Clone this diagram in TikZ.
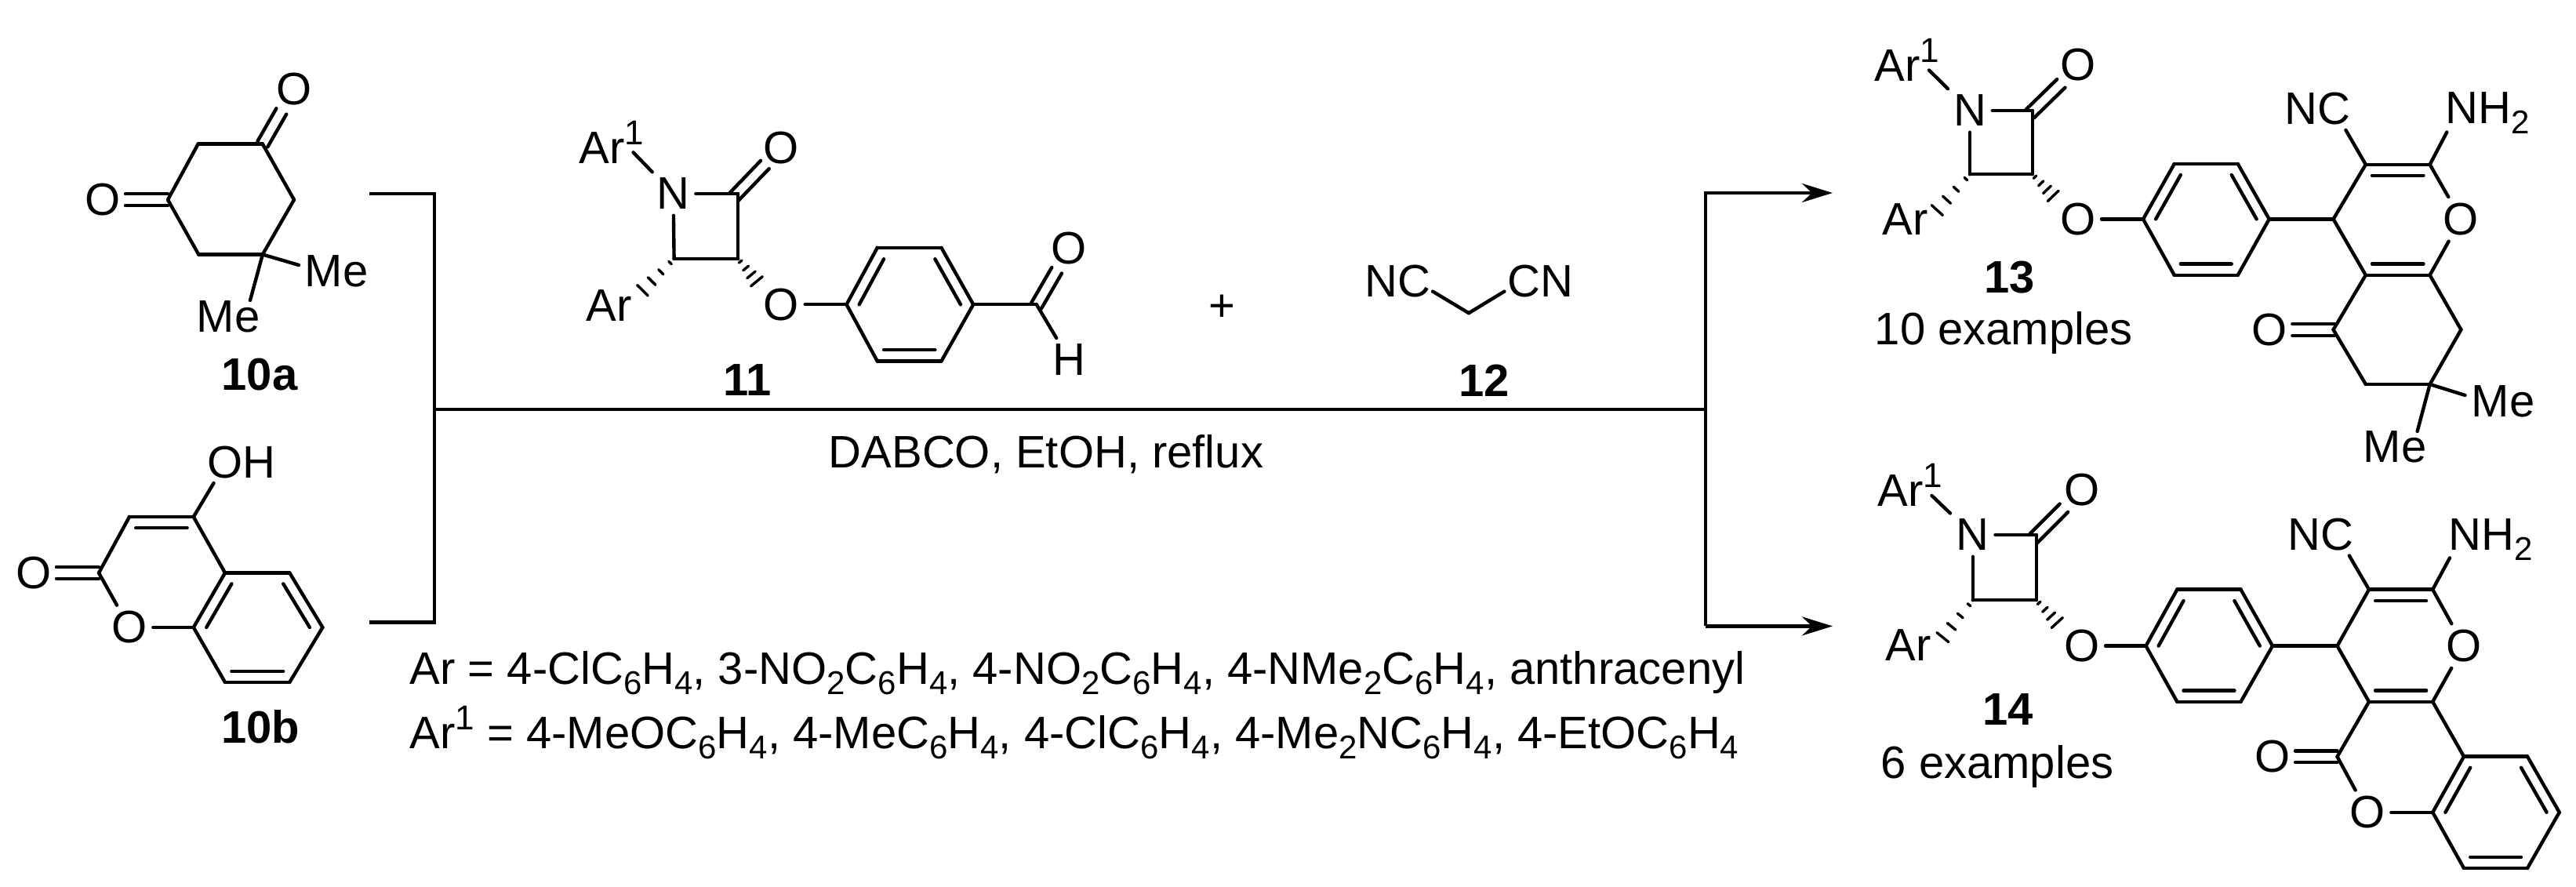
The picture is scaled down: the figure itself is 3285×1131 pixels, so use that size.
\documentclass[tikz,border=0pt]{standalone}
\usepackage{fontspec}
\setmainfont{Liberation Sans}
\usetikzlibrary{calc,arrows.meta}
\newcommand{\chsb}[1]{\raisebox{-3.25pt}{\fontsize{10.5}{10.5}\selectfont #1}}
\newcommand{\chsp}[1]{\raisebox{6pt}{\fontsize{11}{11}\selectfont #1}}
\newcommand{\bonds}[1]{\foreach \p/\q in {#1} \draw[bondline] (\p) -- (\q);}
\newcommand{\inb}[3]{\draw[bondline] ($(#3)!.8!(#1)$) -- ($(#3)!.8!(#2)$);}
\newcommand{\dbl}[2]{\draw[bondline] ($(#1)!1.85pt!90:(#2)$) -- ($(#2)!1.85pt!-90:(#1)$);
  \draw[bondline] ($(#1)!1.85pt!-90:(#2)$) -- ($(#2)!1.85pt!90:(#1)$);}
\newcommand{\hsh}[2]{\foreach \t/\w in {.12/.6pt,.40/1.1pt,.68/1.7pt,.96/2.4pt}
  \draw[bondline,line width=.85pt] ($($(#1)!\t!(#2)$)!\w!90:(#2)$) -- ($($(#1)!\t!(#2)$)!\w!-90:(#2)$);}
\tikzset{
  bondline/.style={line width=1.1pt,line cap=round,line join=round,black},
  rxnline/.style={line width=1.1pt,line cap=butt,line join=miter,black},
  arrowline/.style={rxnline,-{Stealth[length=9.75pt,width=6pt]}},
  atom/.style={inner sep=1.75pt,font=\fontsize{14.5}{14.5}\selectfont},
  txt/.style={inner sep=0pt,anchor=base west,font=\fontsize{14.5}{14.5}\selectfont},
  lbl/.style={inner sep=0pt,anchor=base,font=\fontsize{14.5}{14.5}\selectfont\bfseries}
}
\begin{document}
\begin{tikzpicture}[x=.25pt,y=-.25pt]
\useasboundingbox (0,0) rectangle (3285,1131);
\fill[white] (0,0) rectangle (3285,1131);
% ---------- 10a
\coordinate (A1) at (252.6,183.7); \coordinate (A2) at (334.9,183.7);
\coordinate (A3) at (375,254.7); \coordinate (A4) at (334.9,324.5);
\coordinate (A5) at (253.3,324.5); \coordinate (A6) at (214,254.7);
\coordinate (AE1) at (358.8,142); \coordinate (AE2) at (160,254.7);
\coordinate (AM1) at (381,338); \coordinate (AM2) at (319,383);
\node[atom] (AO1) at (375,114) {O};
\node[atom] (AO2) at (131,254.7) {O};
\node[txt] (AMe1) at (388,366) {Me};
\node[txt] (AMe2) at (250,424) {Me};
\node[lbl] (Al) at (331,497.8) {10a};
\bonds{A1/A2,A2/A3,A3/A4,A4/A5,A5/A6,A6/A1,A4/AM1,A4/AM2}
\dbl{A2}{AE1} \dbl{A6}{AE2}
% ---------- 10b
\coordinate (B3) at (165,659); \coordinate (B4) at (246.8,659);
\coordinate (B4a) at (287,730.5); \coordinate (B8a) at (246.8,800);
\coordinate (B2) at (126,730.5);
\coordinate (B5) at (369.3,730.5); \coordinate (B6) at (411.4,800);
\coordinate (B7) at (369.3,870); \coordinate (B8) at (287,870);
\coordinate (Bc1) at (206,730); \coordinate (Bc2) at (329,800);
\coordinate (BE) at (72,730.5); \coordinate (BH) at (272.5,616);
\node[atom] (BO1) at (43,730.5) {O};
\node[atom] (BO2) at (165,800) {O};
\node[txt] (BOH) at (264,610) {OH};
\node[lbl] (Bl) at (332,948) {10b};
\bonds{B2/B3,B3/B4,B4/B4a,B4a/B8a,B4a/B5,B5/B6,B6/B7,B7/B8,B8/B8a,B4/BH,B2/BO2,BO2/B8a}
\inb{B3}{B4}{Bc1} \inb{B4a}{B8a}{Bc2} \inb{B5}{B6}{Bc2} \inb{B7}{B8}{Bc2}
\dbl{B2}{BE}
% ---------- 11
\node[atom] (CN) at (858.6,247) {N};
\coordinate (C2) at (941.2,247); \coordinate (C3) at (941.2,330); \coordinate (C4) at (859.6,330);
\coordinate (CS) at (936,251); \coordinate (CE) at (975.4,210);
\coordinate (CA1) at (807.6,194.4); \coordinate (CHA) at (817.8,372); 
\node[atom] (CO1) at (996.3,188.3) {O};
\node[atom] (CO2) at (996.3,388.3) {O};
\node[txt] (CAr1) at (738,208.6) {Ar\chsp{1}};
\node[txt] (CAr) at (747,409.7) {Ar};
\coordinate (CP1) at (1079.5,388.3); \coordinate (CP2) at (1118.8,315.8);
\coordinate (CP3) at (1200.4,315.8); \coordinate (CP4) at (1241.2,388.3);
\coordinate (CP5) at (1200.4,460.5); \coordinate (CP6) at (1118.8,460.5);
\coordinate (Cc) at (1160.3,388.3);
\coordinate (CC) at (1321.8,388.3); \coordinate (CS2) at (1321.6,389.7); \coordinate (CE2) at (1347.6,344.8);
\node[atom] (CO3) at (1362.7,317) {O};
\node[atom] (CH) at (1363.7,458.8) {H};
\node[lbl] (Cl) at (953,504.6) {11};
\bonds{CN/C2,C2/C3,C3/C4,C4/CN,CN/CA1,CO2/CP1,CP1/CP2,CP2/CP3,CP3/CP4,CP4/CP5,CP5/CP6,CP6/CP1,CP4/CC,CC/CH}
\hsh{C4}{CHA} \hsh{C3}{CO2.north west}
\dbl{CS}{CE} \dbl{CS2}{CE2}
\inb{CP1}{CP2}{Cc} \inb{CP3}{CP4}{Cc} \inb{CP5}{CP6}{Cc}
% ---------- plus, 12
\node[inner sep=0pt,font=\fontsize{14.5}{14.5}\selectfont] (plus) at (1558.5,392.3) {+};
\coordinate (G1) at (1827,371.6); \coordinate (G2) at (1873,399.2); \coordinate (G3) at (1918.4,371.6);
\node[txt] (GNC) at (1740,378.5) {NC};
\node[txt] (GCN) at (1922,378.5) {CN};
\node[lbl] (Gl) at (1892.5,505.6) {12};
\bonds{G1/G2,G2/G3}
% ---------- reaction lines
\coordinate (R1) at (470.7,246.8); \coordinate (R2) at (554,246.8);
\coordinate (R3) at (554,793.6); \coordinate (R4) at (470.7,793.6);
\coordinate (R5) at (554,522); \coordinate (R6) at (2175,522);
\coordinate (R7) at (2175,246); \coordinate (R8) at (2337,246);
\coordinate (R9) at (2175,798.4); \coordinate (R10) at (2337,798.4);
\draw[rxnline] (R1) -- (R2) -- (R3) -- (R4);
\draw[rxnline] (R5) -- (R6);
\draw[arrowline] (R9) -- (R7) -- (R8);
\draw[arrowline] (R9) -- (R10);
\node[txt] (cond) at (1056,596.7) {DABCO, EtOH, reflux};
\node[txt] (arline) at (522,873) {Ar = 4-ClC\chsb{6}H\chsb{4}, 3-NO\chsb{2}C\chsb{6}H\chsb{4}, 4-NO\chsb{2}C\chsb{6}H\chsb{4}, 4-NMe\chsb{2}C\chsb{6}H\chsb{4}, anthracenyl};
\node[txt] (arline2) at (522,955) {Ar\chsp{1} = 4-MeOC\chsb{6}H\chsb{4}, 4-MeC\chsb{6}H\chsb{4}, 4-ClC\chsb{6}H\chsb{4}, 4-Me\chsb{2}NC\chsb{6}H\chsb{4}, 4-EtOC\chsb{6}H\chsb{4}};
% ---------- 13
\node[atom] (DN) at (2512,141) {N};
\coordinate (D2) at (2591.7,141); \coordinate (D3) at (2591.7,222.3); \coordinate (D4) at (2512,222.3);
\coordinate (DS) at (2588.7,145); \coordinate (DE) at (2628.3,106.4);
\coordinate (DA1) at (2460,89.5); \coordinate (DHA) at (2468.6,270);
\node[atom] (DO1) at (2649.6,83) {O};
\node[atom] (DO2) at (2649.6,279.4) {O};
\node[txt] (DAr1) at (2390,103.5) {Ar\chsp{1}};
\node[txt] (DAr) at (2400,300) {Ar};
\coordinate (DP1) at (2733,279.4); \coordinate (DP2) at (2772.7,209); \coordinate (DP3) at (2853.8,209);
\coordinate (DP4) at (2893.7,279.4); \coordinate (DP5) at (2853.8,350.8); \coordinate (DP6) at (2772.7,350.8);
\coordinate (Dc) at (2813.3,279.4);
\coordinate (DQ4) at (2975.5,279.4); \coordinate (DQ3) at (3016.8,209.8); \coordinate (DQ2) at (3098.6,209.8);
\coordinate (DQ8a) at (3098.6,350.8); \coordinate (DQ4a) at (3016.8,350.8);
\coordinate (Dq) at (3057.7,279.4);
\node[atom] (DO3) at (3138.4,279.4) {O};
\coordinate (DNC) at (2991.4,165.9); \coordinate (DNH) at (3120.3,168.5);
\node[txt] (DtNC) at (2913,159) {NC};
\node[txt] (DtNH) at (3118,157.6) {NH\chsb{2}};
\coordinate (DR5) at (2975.5,420.4); \coordinate (DR6) at (3016.8,490); \coordinate (DR7) at (3098.6,490); \coordinate (DR8) at (3138.4,420.4);
\coordinate (DR5b) at (2977,420.4); \coordinate (DRE) at (2923.3,420.4);
\coordinate (DM1) at (3143.5,504); \coordinate (DM2) at (3082.6,550);
\node[atom] (DO4) at (2894.4,420.4) {O};
\node[txt] (DMe1) at (3151,531.3) {Me};
\node[txt] (DMe2) at (3013,589.5) {Me};
\node[lbl] (Dl) at (2562.7,373.4) {13};
\node[txt] (Dex) at (2390,439.2) {10 examples};
\bonds{DN/D2,D2/D3,D3/D4,D4/DN,DN/DA1,DO2/DP1,DP1/DP2,DP2/DP3,DP3/DP4,DP4/DP5,DP5/DP6,DP6/DP1,DP4/DQ4,DQ4/DQ3,DQ3/DQ2,DQ2/DO3,DO3/DQ8a,DQ8a/DQ4a,DQ4a/DQ4,DQ3/DNC,DQ2/DNH,DQ4a/DR5,DR5/DR6,DR6/DR7,DR7/DR8,DR8/DQ8a,DR7/DM1,DR7/DM2}
\hsh{D4}{DHA} \hsh{D3}{DO2.north west}
\dbl{DS}{DE} \dbl{DR5b}{DRE}
\inb{DP1}{DP2}{Dc} \inb{DP3}{DP4}{Dc} \inb{DP5}{DP6}{Dc}
\inb{DQ3}{DQ2}{Dq} \inb{DQ4a}{DQ8a}{Dq}
% ---------- 14
\node[atom] (EN) at (2515.7,682) {N};
\coordinate (E2) at (2596.8,682); \coordinate (E3) at (2596.8,765.3); \coordinate (E4) at (2515.7,765.3);
\coordinate (ES) at (2592.4,687.4); \coordinate (EE) at (2631.9,647.7);
\coordinate (EA1) at (2463.5,632); \coordinate (EHA) at (2475.8,814.6);
\node[atom] (EO1) at (2654.7,624.7) {O};
\node[atom] (EO2) at (2654.7,823.6) {O};
\node[txt] (EAr1) at (2394,645.5) {Ar\chsp{1}};
\node[txt] (EAr) at (2404,842.3) {Ar};
\coordinate (EP1) at (2736.5,823.6); \coordinate (EP2) at (2776.3,751.7); \coordinate (EP3) at (2857.5,751.7);
\coordinate (EP4) at (2898,823.6); \coordinate (EP5) at (2857.5,894.8); \coordinate (EP6) at (2776.3,894.8);
\coordinate (Ec) at (2817,823.6);
\coordinate (EQ4) at (2980.5,823.6); \coordinate (EQ3) at (3021,751.7); \coordinate (EQ2) at (3102.2,751.7);
\coordinate (EQb) at (3102.2,894.8); \coordinate (EQa) at (3021,894.8);
\coordinate (Eq) at (3061.6,823.6);
\node[atom] (EO3) at (3142,823.6) {O};
\coordinate (ENC) at (2995.8,708.5); \coordinate (ENH) at (3124,711.4);
\node[txt] (EtNC) at (2916.5,701.3) {NC};
\node[txt] (EtNH) at (3122,701.3) {NH\chsb{2}};
\coordinate (EL1) at (2980.5,964.8); \coordinate (ELE) at (2927,964.8);
\node[atom] (EO4) at (2898,964.8) {O};
\node[atom] (EO5) at (3019,1035.8) {O};
\coordinate (EB1) at (3142,964.6); \coordinate (EB2) at (3223,964.6); \coordinate (EB3) at (3263.7,1035.8);
\coordinate (EB4) at (3223,1107); \coordinate (EB5) at (3142,1107); \coordinate (EB6) at (3102.2,1035.8);
\coordinate (Ed) at (3183,1035.8);
\node[lbl] (El) at (2560.6,925) {14};
\node[txt] (Eex) at (2398,992.7) {6 examples};
\bonds{EN/E2,E2/E3,E3/E4,E4/EN,EN/EA1,EO2/EP1,EP1/EP2,EP2/EP3,EP3/EP4,EP4/EP5,EP5/EP6,EP6/EP1,EP4/EQ4,EQ4/EQ3,EQ3/EQ2,EQ2/EO3,EO3/EQb,EQb/EQa,EQa/EQ4,EQ3/ENC,EQ2/ENH,EQa/EL1,EL1/EO5,EO5/EB6,EQb/EB1,EB1/EB2,EB2/EB3,EB3/EB4,EB4/EB5,EB5/EB6,EB6/EB1}
\hsh{E4}{EHA} \hsh{E3}{EO2.north west}
\dbl{ES}{EE} \dbl{EL1}{ELE}
\inb{EP1}{EP2}{Ec} \inb{EP3}{EP4}{Ec} \inb{EP5}{EP6}{Ec}
\inb{EQ3}{EQ2}{Eq} \inb{EQa}{EQb}{Eq}
\inb{EB1}{EB6}{Ed} \inb{EB2}{EB3}{Ed} \inb{EB4}{EB5}{Ed}
\end{tikzpicture}
\end{document}
